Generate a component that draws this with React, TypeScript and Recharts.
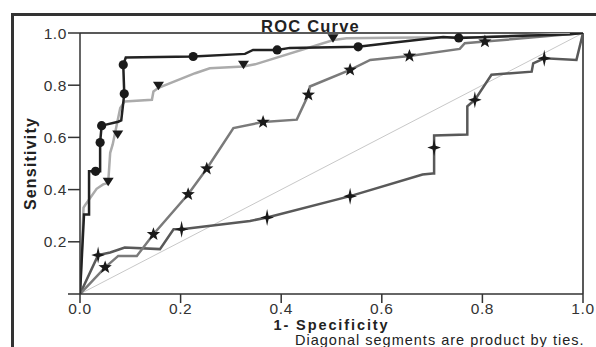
import React from 'react';
import { ComposedChart, Line, Scatter, XAxis, YAxis, ReferenceLine } from 'recharts';

// Black curve (circle markers)
const blackX = [0, 0.008, 0.018, 0.018, 0.04, 0.04, 0.043, 0.076, 0.082, 0.088, 0.086, 0.091, 0.225, 0.328, 0.344, 0.392, 0.417, 0.553, 0.616, 0.722, 0.753, 0.974, 1.0];
const blackY = [0, 0.305, 0.305, 0.47, 0.47, 0.58, 0.645, 0.66, 0.665, 0.767, 0.878, 0.906, 0.91, 0.92, 0.935, 0.935, 0.943, 0.947, 0.962, 0.985, 0.981, 0.995, 1.0];
const blackMarkX = [0.031, 0.04, 0.043, 0.088, 0.086, 0.225, 0.392, 0.553, 0.753];
const blackMarkY = [0.47, 0.58, 0.645, 0.767, 0.878, 0.91, 0.935, 0.947, 0.981];

// Light gray curve (down-triangle markers)
const grayX = [0, 0.007, 0.01, 0.033, 0.046, 0.056, 0.06, 0.065, 0.08, 0.089, 0.143, 0.146, 0.156, 0.229, 0.258, 0.325, 0.348, 0.504, 0.53, 0.616, 0.8, 1.0];
const grayY = [0, 0.331, 0.34, 0.403, 0.42, 0.425, 0.541, 0.573, 0.713, 0.738, 0.744, 0.776, 0.79, 0.846, 0.865, 0.872, 0.88, 0.973, 0.98, 0.982, 0.985, 1.0];
const triMarkX = [0.056, 0.075, 0.156, 0.325, 0.503];
const triMarkY = [0.43, 0.611, 0.798, 0.878, 0.98];

// Mid gray curve (five-point star markers)
const starX = [0, 0.05, 0.076, 0.113, 0.146, 0.215, 0.252, 0.305, 0.364, 0.431, 0.454, 0.457, 0.537, 0.577, 0.655, 0.755, 0.765, 0.805, 1.0];
const starY = [0, 0.102, 0.146, 0.146, 0.229, 0.382, 0.48, 0.636, 0.659, 0.668, 0.763, 0.795, 0.859, 0.897, 0.912, 0.939, 0.961, 0.967, 1.0];
const starMarkX = [0.05, 0.146, 0.215, 0.252, 0.364, 0.454, 0.537, 0.655, 0.805];
const starMarkY = [0.102, 0.229, 0.382, 0.48, 0.659, 0.763, 0.859, 0.912, 0.967];

// Dark gray curve (four-point star markers)
const crossX = [0, 0.036, 0.06, 0.089, 0.159, 0.186, 0.202, 0.338, 0.372, 0.537, 0.681, 0.701, 0.704, 0.704, 0.77, 0.77, 0.785, 0.818, 0.898, 0.901, 0.923, 0.987, 1.0];
const crossY = [0, 0.149, 0.159, 0.178, 0.172, 0.248, 0.248, 0.28, 0.293, 0.375, 0.458, 0.462, 0.462, 0.607, 0.611, 0.719, 0.744, 0.84, 0.852, 0.884, 0.903, 0.897, 1.0];
const crossMarkX = [0.036, 0.202, 0.372, 0.537, 0.704, 0.785, 0.923];
const crossMarkY = [0.149, 0.248, 0.293, 0.375, 0.561, 0.744, 0.903];

const diagX = [0, 1];
const diagY = [0, 1];

const xTicks = [0, 0.2, 0.4, 0.6, 0.8, 1.0];
const yTicks = [0, 0.2, 0.4, 0.6, 0.8, 1.0];

const zip = (xs: number[], ys: number[]) => xs.map((x, i) => ({ x, y: ys[i] }));

const black = zip(blackX, blackY);
const blackM = zip(blackMarkX, blackMarkY);
const gray = zip(grayX, grayY);
const triM = zip(triMarkX, triMarkY);
const star = zip(starX, starY);
const starM = zip(starMarkX, starMarkY);
const cross = zip(crossX, crossY);
const crossM = zip(crossMarkX, crossMarkY);
const diag = zip(diagX, diagY);

const FONT = '"Liberation Sans", Arial, Helvetica, sans-serif';
const MARK = '#1a1a1a';

const CircleShape = (p: any) => <circle cx={p.cx} cy={p.cy} r={4.6} fill={MARK} />;
const TriShape = (p: any) => (
  <polygon points={`${p.cx - 5.5},${p.cy - 4} ${p.cx + 5.5},${p.cy - 4} ${p.cx},${p.cy + 4.5}`} fill={MARK} />
);
const starPts = (cx: number, cy: number, n: number, ro: number, ri: number, rx = 1) => {
  const pts: string[] = [];
  for (let i = 0; i < n * 2; i++) {
    const r = i % 2 === 0 ? ro : ri;
    const a = -Math.PI / 2 + (i * Math.PI) / n;
    pts.push(`${cx + r * Math.cos(a) * rx},${cy + r * Math.sin(a)}`);
  }
  return pts.join(' ');
};
const StarShape = (p: any) => <polygon points={starPts(p.cx, p.cy, 5, 7, 2.9)} fill={MARK} />;
const CrossShape = (p: any) => <polygon points={starPts(p.cx, p.cy, 4, 8.5, 2.6, 0.8)} fill={MARK} />;

const tickStyle = { fill: '#333', fontSize: 15.5, fontFamily: FONT, letterSpacing: 0.6 };

export default function App() {
  return (
    <div style={{ position: 'absolute', left: 0, top: 0, width: 596, height: 347, background: '#fff', overflow: 'hidden' }}>
      <div style={{ position: 'absolute', left: 11, top: 13, width: 600, height: 400, borderTop: '3px solid #333', borderLeft: '3px solid #333' }} />
      <div style={{ position: 'absolute', left: 0, top: 0 }}>
        <ComposedChart width={596} height={347} margin={{ top: 33, right: 13, bottom: 16, left: 0 }}>
          <XAxis
            type="number"
            dataKey="x"
            domain={[0, 1]}
            ticks={xTicks}
            tickFormatter={(v: number) => v.toFixed(1)}
            stroke="#333"
            strokeWidth={1.5}
            tickSize={9}
            tickMargin={0}
            height={37}
            tick={tickStyle}
            allowDataOverflow
            label={{ value: '1- Specificity', position: 'insideBottom', offset: 1.5, style: { fontWeight: 'bold', fontSize: 14.5, letterSpacing: 1.9, fontFamily: FONT, fill: '#222' } }}
          />
          <YAxis
            type="number"
            dataKey="y"
            domain={[0, 1]}
            ticks={yTicks}
            tickFormatter={(v: number) => (v === 0 ? '' : v.toFixed(1))}
            stroke="#333"
            strokeWidth={1.5}
            tickSize={12}
            tickMargin={1}
            width={80}
            tick={tickStyle}
            allowDataOverflow
            label={{ value: 'Sensitivity', angle: -90, position: 'insideLeft', offset: 30, style: { textAnchor: 'middle', fontWeight: 'bold', fontSize: 16, letterSpacing: 1.2, fontFamily: FONT, fill: '#222' } }}
          />
          <ReferenceLine
            y={1}
            stroke="#222"
            strokeWidth={1.5}
            label={{ value: 'ROC Curve', position: 'top', offset: 1, dx: -21, style: { fontWeight: 'bold', fontSize: 16.5, letterSpacing: 1.2, fontFamily: FONT, fill: '#222' } }}
          />
          <ReferenceLine x={1} stroke="#222" strokeWidth={1.5} />
          <Line data={diag} dataKey="y" stroke="#c8c8c8" strokeWidth={1} dot={false} activeDot={false} isAnimationActive={false} />
          <Line data={cross} dataKey="y" stroke="#595959" strokeWidth={2.5} dot={false} activeDot={false} isAnimationActive={false} />
          <Line data={star} dataKey="y" stroke="#7a7a7a" strokeWidth={2.5} dot={false} activeDot={false} isAnimationActive={false} />
          <Line data={gray} dataKey="y" stroke="#ababab" strokeWidth={2.5} dot={false} activeDot={false} isAnimationActive={false} />
          <Line data={black} dataKey="y" stroke="#222" strokeWidth={2.5} dot={false} activeDot={false} isAnimationActive={false} />
          <Scatter data={crossM} dataKey="y" shape={CrossShape} isAnimationActive={false} />
          <Scatter data={starM} dataKey="y" shape={StarShape} isAnimationActive={false} />
          <Scatter data={triM} dataKey="y" shape={TriShape} isAnimationActive={false} />
          <Scatter data={blackM} dataKey="y" shape={CircleShape} isAnimationActive={false} />
        </ComposedChart>
      </div>
      <div style={{ position: 'absolute', left: 295, top: 333, lineHeight: '14px', fontFamily: FONT, fontSize: 14.5, letterSpacing: 1.0, color: '#222', whiteSpace: 'nowrap' }}>
        Diagonal segments are product by ties.
      </div>
    </div>
  );
}
